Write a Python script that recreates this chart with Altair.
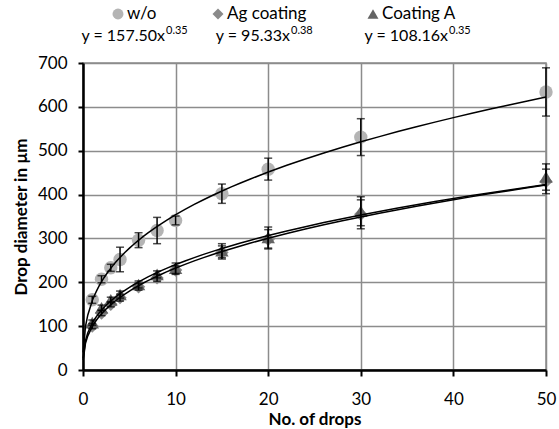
import altair as alt
import pandas as pd

# ---- data ----
drops = [1, 2, 3, 4, 6, 8, 10, 15, 20, 30, 50]
wo = [160, 207, 233, 252, 296, 318, 341, 402, 458, 531, 634]
wo_err = [8, 8, 8, 28, 17, 30, 10, 22, 25, 42, 55]
ag = [100, 130, 150, 165, 190, 210, 228, 268, 298, 355, 430]
ag_err = [6, 6, 6, 8, 8, 8, 10, 15, 22, 33, 28]
ca = [108, 142, 160, 172, 195, 218, 232, 272, 302, 362, 440]
ca_err = [6, 6, 6, 8, 8, 8, 12, 16, 24, 33, 30]

series_names = ["w/o", "Ag coating", "Coating A"]
equations = ["y = 157.50x", "y = 95.33x", "y = 108.16x"]
exponents = ["0.35", "0.38", "0.35"]

colors = ["#b4b4b4", "#8a8a8a", "#646464"]
shapes = ["circle", "diamond", "triangle-up"]
FONT = "Lato"

rows = []
for name, vals, errs in zip(series_names, [wo, ag, ca], [wo_err, ag_err, ca_err]):
    for x, v, e in zip(drops, vals, errs):
        rows.append({"series": name, "drops": x, "d": v, "lo": v - e, "hi": v + e})
df = pd.DataFrame(rows)

xscale = alt.Scale(domain=[0, 50], nice=False, zero=True)
yscale = alt.Scale(domain=[0, 700], nice=False)

xaxis = alt.Axis(values=[0, 10, 20, 30, 40, 50], title="No. of drops", grid=True,
                 gridColor="#8c8c8c", gridWidth=1.5, domainColor="black", domainWidth=2.5,
                 tickColor="black", tickWidth=2, tickSize=6, labelFontSize=17, labelPadding=15,
                 labelFlush=False, labelFont=FONT, labelColor="black", titleFont=FONT,
                 titleFontSize=17, titleFontWeight="bold", titleColor="black", titlePadding=4)
yaxis = alt.Axis(values=[0, 100, 200, 300, 400, 500, 600, 700], title="Drop diameter in µm",
                 grid=True, gridColor="#8c8c8c", gridWidth=1.5, domainColor="black",
                 domainWidth=2.5, tickColor="black", tickWidth=2, tickSize=5, labelFontSize=17,
                 labelPadding=11, labelFont=FONT, labelColor="black", titleFont=FONT,
                 titleFontSize=17, titleFontWeight="bold", titleColor="black", titlePadding=7)

base = alt.Chart(df)
color_enc = alt.Color("series:N", scale=alt.Scale(domain=series_names, range=colors), legend=None)
shape_enc = alt.Shape("series:N", scale=alt.Scale(domain=series_names, range=shapes), legend=None)

points = base.mark_point(filled=True, opacity=1, size=180).encode(
    x=alt.X("drops:Q", scale=xscale, axis=xaxis),
    y=alt.Y("d:Q", scale=yscale, axis=yaxis),
    color=color_enc, shape=shape_enc,
)
bars = base.mark_rule(color="black", strokeWidth=1.5).encode(
    x="drops:Q", y="lo:Q", y2="hi:Q")
cap_lo = base.mark_tick(color="black", thickness=1.5, size=8, orient="horizontal").encode(
    x="drops:Q", y="lo:Q")
cap_hi = base.mark_tick(color="black", thickness=1.5, size=8, orient="horizontal").encode(
    x="drops:Q", y="hi:Q")

fits = base.transform_regression(
    "drops", "d", method="pow", groupby=["series"], extent=[0.02, 50]
).mark_line(color="black", strokeWidth=1.5).encode(
    x="drops:Q", y="d:Q", detail="series:N")

# ---- custom legend at the top ----
leg_df = pd.DataFrame({"series": series_names, "eq": equations, "ex": exponents})
sym_x = [35, 135, 290]
lab_x = [44, 144, 299]
eq_join = [82, 207, 365]
legend_layers = []
for i, name in enumerate(series_names):
    lb = alt.Chart(leg_df).transform_filter(alt.datum.series == name)
    legend_layers.append(lb.mark_point(filled=True, opacity=1, size=120, shape=shapes[i],
                                       color=colors[i]).encode(
        x=alt.value(sym_x[i]), y=alt.value(-49)))
    legend_layers.append(lb.mark_text(align="left", baseline="alphabetic", font=FONT,
                                      fontSize=17, color="black").encode(
        text="series:N", x=alt.value(lab_x[i]), y=alt.value(-44)))
    legend_layers.append(lb.mark_text(align="right", baseline="alphabetic", font=FONT,
                                      fontSize=16, color="black").encode(
        text="eq:N", x=alt.value(eq_join[i]), y=alt.value(-22)))
    legend_layers.append(lb.mark_text(align="left", baseline="alphabetic", font=FONT,
                                      fontSize=11, color="black").encode(
        text="ex:N", x=alt.value(eq_join[i] + 1), y=alt.value(-29)))

chart = alt.layer(points, bars, cap_lo, cap_hi, fits, *legend_layers).properties(
    width=463, height=307,
    autosize=alt.AutoSizeParams(type="none"),
    padding={"left": 83, "top": 63, "right": 13, "bottom": 59},
    background="white",
).configure_view(stroke="#8c8c8c", strokeWidth=1.5)

chart.save("out.html", embed_options={"renderer": "svg", "actions": False})
